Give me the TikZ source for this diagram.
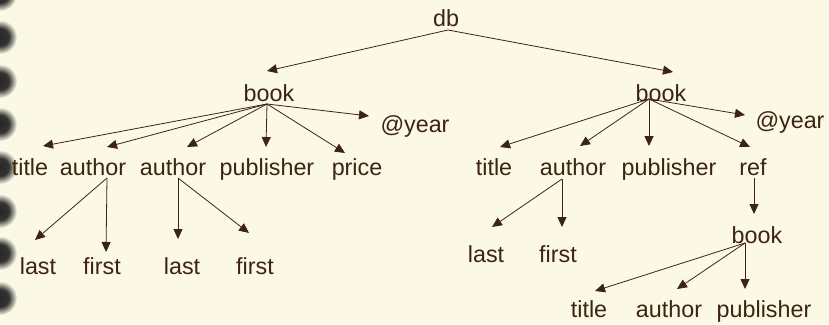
\documentclass[tikz,border=0pt]{standalone}
\usepackage{fontspec}
\setmainfont{Liberation Sans}
\usetikzlibrary{arrows.meta}
\definecolor{bg}{HTML}{FBF9E5}
\definecolor{ink}{HTML}{3C2412}
\pgfdeclareradialshading{ringdot}{\pgfpoint{0bp}{0bp}}{color(0bp)=(black!85); color(13bp)=(black!80); color(25bp)=(bg); color(50bp)=(bg)}
\begin{document}
\begin{tikzpicture}[x=1pt,y=-1pt,
  lbl/.style={anchor=base,inner sep=0pt,text=ink,font=\fontsize{23.3}{28}\selectfont},
  arr/.style={draw=ink,line width=0.8pt,-{Triangle[length=10pt,width=9pt]}},
  holedot/.style={shading=ringdot}]
\fill[bg] (0,0) rectangle (829,324);
\useasboundingbox (0,0) rectangle (829,324);
% binding dots
\foreach \yy in {-6,37,81,124,167,211,253,298}
  \shade[holedot] (0,\yy) circle (17);
% nodes
\node[lbl] (db) at (446,26) {db};
\node[lbl] (b1) at (269,101) {book};
\node[lbl] (y1) at (415,132) {@year};
\node[lbl] (t1) at (30,175) {title};
\node[lbl] (a1) at (93,175) {author};
\node[lbl] (a2) at (173,175) {author};
\node[lbl] (p1) at (267,175) {publisher};
\node[lbl] (pr) at (357,175) {price};
\node[lbl] (l1) at (38,274) {last};
\node[lbl] (f1) at (102,274) {first};
\node[lbl] (l2) at (182,274) {last};
\node[lbl] (f2) at (255,274) {first};
\node[lbl] (b2) at (661,101) {book};
\node[lbl] (y2) at (790,128) {@year};
\node[lbl] (t2) at (494,175) {title};
\node[lbl] (a3) at (573,175) {author};
\node[lbl] (p2) at (669,175) {publisher};
\node[lbl] (r) at (753,175) {ref};
\node[lbl] (l3) at (486,262) {last};
\node[lbl] (f3) at (558,262) {first};
\node[lbl] (b3) at (757,243) {book};
\node[lbl] (t3) at (589,317) {title};
\node[lbl] (a4) at (669,317) {author};
\node[lbl] (p3) at (764,317) {publisher};
% connectors
\draw[arr] ([shift={(2,4)}]db.base) -- ([shift={(-2,-30)}]b1.base);
\draw[arr] ([shift={(2,4)}]db.base) -- ([shift={(12,-29)}]b2.base);
\draw[arr] ([shift={(-2,3)}]b1.base) -- ([shift={(13,-29)}]t1.base);
\draw[arr] ([shift={(-2,3)}]b1.base) -- ([shift={(14,-28)}]a1.base);
\draw[arr] ([shift={(-2,3)}]b1.base) -- ([shift={(14,-28)}]a2.base);
\draw[arr] ([shift={(-2,3)}]b1.base) -- ([shift={(-1,-28)}]p1.base);
\draw[arr] ([shift={(-2,3)}]b1.base) -- ([shift={(-12,-22)}]pr.base);
\draw[arr] ([shift={(-2,3)}]b1.base) -- ([shift={(-46,-16)}]y1.base);
\draw[arr] ([shift={(-12,-2)}]b2.base) -- ([shift={(6,-28)}]t2.base);
\draw[arr] ([shift={(-12,-2)}]b2.base) -- ([shift={(7,-29)}]a3.base);
\draw[arr] ([shift={(-12,-2)}]b2.base) -- ([shift={(-20,-29)}]p2.base);
\draw[arr] ([shift={(-12,-2)}]b2.base) -- ([shift={(-3,-28)}]r.base);
\draw[arr] ([shift={(-12,-2)}]b2.base) -- ([shift={(-45,-13)}]y2.base);
\draw[arr] ([shift={(14,3)}]a1.base) -- ([shift={(-3,-34)}]l1.base);
\draw[arr] ([shift={(14,3)}]a1.base) -- ([shift={(4,-22)}]f1.base);
\draw[arr] ([shift={(5,3)}]a2.base) -- ([shift={(-4,-35)}]l2.base);
\draw[arr] ([shift={(5,3)}]a2.base) -- ([shift={(-6,-41)}]f2.base);
\draw[arr] ([shift={(-11,4)}]a3.base) -- ([shift={(6,-35)}]l3.base);
\draw[arr] ([shift={(-11,4)}]a3.base) -- ([shift={(4,-35)}]f3.base);
\draw[arr] ([shift={(1,3)}]r.base) -- ([shift={(-3,-29)}]b3.base);
\draw[arr] ([shift={(-12,0)}]b3.base) -- ([shift={(6,-26)}]t3.base);
\draw[arr] ([shift={(-12,0)}]b3.base) -- ([shift={(8,-28)}]a4.base);
\draw[arr] ([shift={(-12,0)}]b3.base) -- ([shift={(-19,-28)}]p3.base);
\end{tikzpicture}
\end{document}
